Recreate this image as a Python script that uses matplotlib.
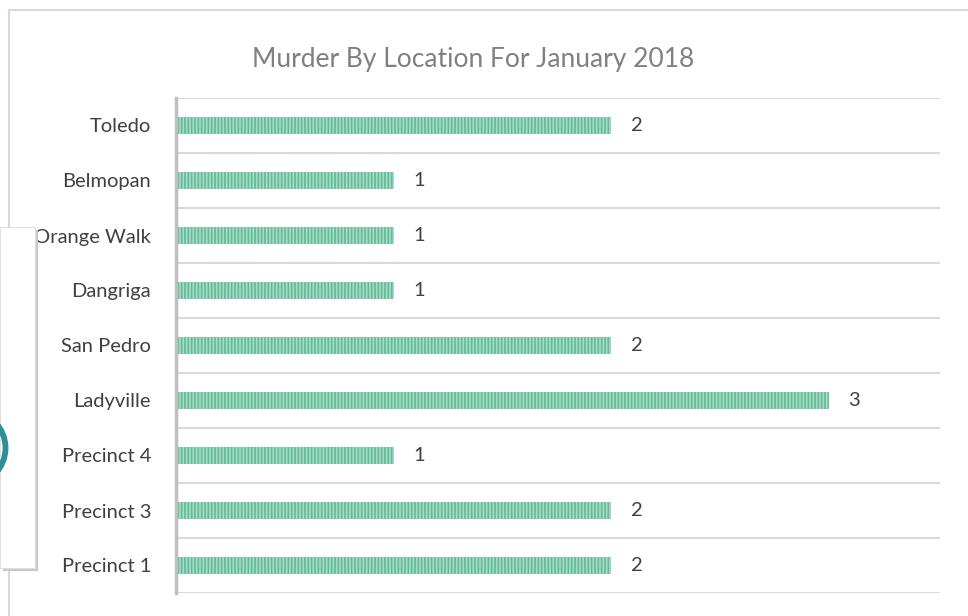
import matplotlib.pyplot as plt
from matplotlib.patches import Rectangle, Circle

# Data (top to bottom as shown)
locations = ['Toledo', 'Belmopan', 'Orange Walk', 'Dangriga', 'San Pedro',
             'Ladyville', 'Precinct 4', 'Precinct 3', 'Precinct 1']
murders = [2, 1, 1, 1, 2, 3, 1, 2, 2]

plt.rcParams['hatch.linewidth'] = 1.2
plt.rcParams['font.family'] = ['Lato', 'DejaVu Sans']

W, H = 968, 616
fig = plt.figure(figsize=(W / 100, H / 100), dpi=100)
fig.patch.set_facecolor('white')

# chart outer border (top and left visible)
fig.add_artist(plt.Line2D([9 / W, 9 / W], [0, 1 - 10 / H], transform=fig.transFigure,
                          color='#d9d9d9', lw=1.5))
fig.add_artist(plt.Line2D([9 / W, 1], [1 - 10 / H, 1 - 10 / H], transform=fig.transFigure,
                          color='#d9d9d9', lw=1.5))

left, right, top, bottom = 176, 940, 98, 593
ax = fig.add_axes([left / W, 1 - bottom / H, (right - left) / W, (bottom - top) / H])

y = list(range(len(locations)))
ax.barh(y, murders, height=0.31, color='#a9ddc9', edgecolor='#62bb96',
        hatch='|||||', linewidth=0)

ax.set_ylim(len(locations) - 0.5, -0.5)
ax.set_xlim(0, 3.51)
ax.set_yticks(y)
ax.set_yticklabels(locations, fontsize=14.5, color='#404040')
ax.tick_params(axis='y', length=0, pad=18)
ax.set_xticks([])

# horizontal gridlines at category boundaries
for b in range(len(locations) + 1):
    ax.axhline(b - 0.5, color='#d9d9d9', lw=1.5, zorder=0)

for s in ['top', 'right', 'bottom']:
    ax.spines[s].set_visible(False)
ax.spines['left'].set_color('#bfbfbf')
ax.spines['left'].set_linewidth(2.5)

for yi, v in zip(y, murders):
    ax.annotate(str(v), (v, yi), xytext=(14, 0), textcoords='offset points',
                va='center', ha='left', fontsize=14.5, color='#404040')

fig.text(473 / W, 1 - 60 / H, 'Murder By Location For January 2018',
         ha='center', va='center', fontsize=19, color='#808080',
         family=['Lato', 'DejaVu Sans'])

# overlapping panel at the left edge (screenshot artefact)
bx, by, bw, bh = 0, 568, 35, 341  # pixels; by = bottom edge from top
fig.add_artist(Rectangle((3 / W, (H - by - 3) / H), bw / W, bh / H,
                         transform=fig.transFigure, facecolor='#c8c8c8',
                         edgecolor='none', zorder=5))
fig.add_artist(Rectangle((0, (H - by) / H), bw / W, bh / H,
                         transform=fig.transFigure, facecolor='white',
                         edgecolor='#e0e0e0', lw=0.8, zorder=6))
ring = Circle((-32 / 100, (H - 448) / 100), 0.375, transform=fig.dpi_scale_trans,
              fill=False, edgecolor='#2e8f92', lw=4.2, zorder=7)
ring.set_clip_path(Rectangle((0, (H - by) / 100), bw / 100, bh / 100,
                             transform=fig.dpi_scale_trans))
fig.add_artist(ring)

fig.savefig('out.png', dpi=100, facecolor='white')
